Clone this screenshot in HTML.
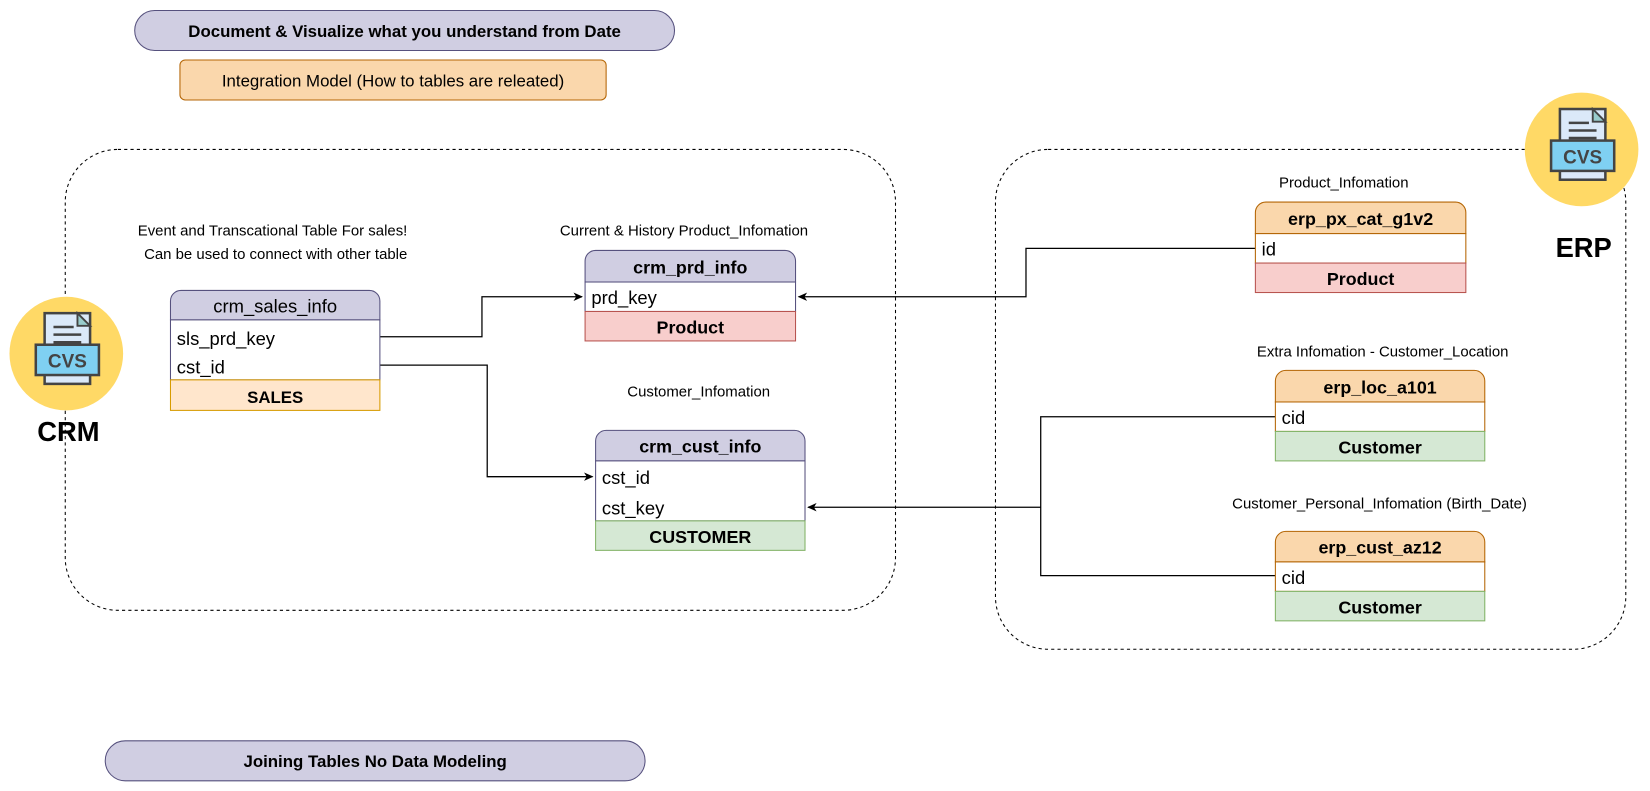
<!DOCTYPE html>
<html><head><meta charset="utf-8"><style>html,body{margin:0;padding:0;background:#fff;width:1650px;height:791px;overflow:hidden}svg{display:block}text{font-family:"Liberation Sans",sans-serif}</style></head>
<body>
<svg width="1650" height="791" viewBox="0 0 1568 751.7" xmlns="http://www.w3.org/2000/svg">
<defs>
<marker id="ar" markerWidth="10" markerHeight="10" refX="8" refY="4" orient="auto" markerUnits="userSpaceOnUse"><path d="M0,0 L9,4 L0,8 L2.5,4 Z" fill="#000"/></marker>
<g id="doc">
<rect x="-18" y="-32" width="36" height="56" fill="#dbe9f9" stroke="#444" stroke-width="2"/>
<path d="M8,-32 L18,-22 L8,-22 Z" fill="#9cc" stroke="#444" stroke-width="1.5"/>
<line x1="-11" y1="-21" x2="5" y2="-21" stroke="#444" stroke-width="2"/>
<line x1="-11" y1="-15" x2="11" y2="-15" stroke="#444" stroke-width="2"/>
<line x1="-11" y1="-9" x2="11" y2="-9" stroke="#444" stroke-width="2"/>
<rect x="-25" y="-7" width="50" height="24" fill="#7fd0f2" stroke="#444" stroke-width="2"/>
<text x="0" y="11" text-anchor="middle" font-size="15" font-weight="bold" fill="#444">CVS</text>
</g>
</defs>
<rect x="128" y="10" width="513" height="38" rx="19" fill="#d0cee2" stroke="#56517e"/>
<text x="384.5" y="35" text-anchor="middle" font-size="16" font-weight="bold">Document &amp; Visualize what you understand from Date</text>
<rect x="171" y="57" width="405" height="38" rx="5" fill="#fad7ac" stroke="#b46504"/>
<text x="373.5" y="82" text-anchor="middle" font-size="16">Integration Model (How to tables are releated)</text>

<rect x="62" y="142" width="789" height="438" rx="50" fill="none" stroke="#000" stroke-dasharray="3,3"/>
<rect x="946" y="142" width="599" height="475" rx="50" fill="none" stroke="#000" stroke-dasharray="3,3"/>

<circle cx="63" cy="336" r="54" fill="#ffd966"/>
<use href="#doc" transform="translate(64,336) scale(1.2)"/>
<text x="65" y="419" text-anchor="middle" font-size="26" font-weight="bold">CRM</text>
<circle cx="1503" cy="142" r="54" fill="#ffd966"/>
<use href="#doc" transform="translate(1504,142) scale(1.2)"/>
<text x="1505" y="244" text-anchor="middle" font-size="26" font-weight="bold">ERP</text>

<g font-size="14.2" text-anchor="middle">
<text x="259" y="224">Event and Transcational Table For sales!</text>
<text x="262" y="246">Can be used to connect with other table</text>
<text x="650" y="224">Current &amp; History Product_Infomation</text>
<text x="664" y="377">Customer_Infomation</text>
<text x="1277" y="178">Product_Infomation</text>
<text x="1314" y="339">Extra Infomation - Customer_Location</text>
<text x="1311" y="483">Customer_Personal_Infomation (Birth_Date)</text>
</g>

<g fill="none" stroke="#000" stroke-width="1.2">
<path d="M361,320 H458 V282 H553" marker-end="url(#ar)"/>
<path d="M361,347 H463 V453 H563" marker-end="url(#ar)"/>
<path d="M1193,236 H975 V282 H759" marker-end="url(#ar)"/>
<path d="M1212,396 H989 V547 H1212"/>
<path d="M989,482 H768" marker-end="url(#ar)"/>
</g>

<path d="M162,304 V286 a10,10 0 0 1 10,-10 H351 a10,10 0 0 1 10,10 V304 Z" fill="#d0cee2" stroke="#56517e"/>
<rect x="162" y="304" width="199" height="57" fill="#fff" stroke="#56517e"/>
<rect x="162" y="361" width="199" height="29" fill="#ffe6cc" stroke="#d79b00"/>
<text x="261.5" y="297" text-anchor="middle" font-size="17.5">crm_sales_info</text>
<text x="168" y="328" font-size="17.5">sls_prd_key</text>
<text x="168" y="355" font-size="17.5">cst_id</text>
<text x="261.5" y="383" text-anchor="middle" font-size="16" font-weight="bold">SALES</text>

<path d="M556,268 V248 a10,10 0 0 1 10,-10 H746 a10,10 0 0 1 10,10 V268 Z" fill="#d0cee2" stroke="#56517e"/>
<rect x="556" y="268" width="200" height="28" fill="#fff" stroke="#56517e"/>
<rect x="556" y="296" width="200" height="28" fill="#f8cecc" stroke="#b85450"/>
<text x="656" y="260" text-anchor="middle" font-size="17" font-weight="bold">crm_prd_info</text>
<text x="562" y="289" font-size="17.5">prd_key</text>
<text x="656" y="317" text-anchor="middle" font-size="17" font-weight="bold">Product</text>

<path d="M566,438 V419 a10,10 0 0 1 10,-10 H755 a10,10 0 0 1 10,10 V438 Z" fill="#d0cee2" stroke="#56517e"/>
<rect x="566" y="438" width="199" height="57" fill="#fff" stroke="#56517e"/>
<rect x="566" y="495" width="199" height="28" fill="#d5e8d4" stroke="#82b366"/>
<text x="665.5" y="430" text-anchor="middle" font-size="17" font-weight="bold">crm_cust_info</text>
<text x="572" y="460" font-size="17.5">cst_id</text>
<text x="572" y="489" font-size="17.5">cst_key</text>
<text x="665.5" y="516" text-anchor="middle" font-size="17" font-weight="bold">CUSTOMER</text>

<path d="M1193,222 V202 a10,10 0 0 1 10,-10 H1383 a10,10 0 0 1 10,10 V222 Z" fill="#fad7ac" stroke="#b46504"/>
<rect x="1193" y="222" width="200" height="28" fill="#fff" stroke="#b46504"/>
<rect x="1193" y="250" width="200" height="28" fill="#f8cecc" stroke="#b85450"/>
<text x="1293" y="214" text-anchor="middle" font-size="17" font-weight="bold">erp_px_cat_g1v2</text>
<text x="1199" y="243" font-size="17.5">id</text>
<text x="1293" y="271" text-anchor="middle" font-size="17" font-weight="bold">Product</text>

<path d="M1212,382 V362 a10,10 0 0 1 10,-10 H1401 a10,10 0 0 1 10,10 V382 Z" fill="#fad7ac" stroke="#b46504"/>
<rect x="1212" y="382" width="199" height="28" fill="#fff" stroke="#b46504"/>
<rect x="1212" y="410" width="199" height="28" fill="#d5e8d4" stroke="#82b366"/>
<text x="1311.5" y="374" text-anchor="middle" font-size="17" font-weight="bold">erp_loc_a101</text>
<text x="1218" y="403" font-size="17.5">cid</text>
<text x="1311.5" y="431" text-anchor="middle" font-size="17" font-weight="bold">Customer</text>

<path d="M1212,534 V515 a10,10 0 0 1 10,-10 H1401 a10,10 0 0 1 10,10 V534 Z" fill="#fad7ac" stroke="#b46504"/>
<rect x="1212" y="534" width="199" height="28" fill="#fff" stroke="#b46504"/>
<rect x="1212" y="562" width="199" height="28" fill="#d5e8d4" stroke="#82b366"/>
<text x="1311.5" y="526" text-anchor="middle" font-size="17" font-weight="bold">erp_cust_az12</text>
<text x="1218" y="555" font-size="17.5">cid</text>
<text x="1311.5" y="583" text-anchor="middle" font-size="17" font-weight="bold">Customer</text>

<rect x="100" y="704" width="513" height="38" rx="19" fill="#d0cee2" stroke="#56517e"/>
<text x="356.5" y="729" text-anchor="middle" font-size="16" font-weight="bold">Joining Tables No Data Modeling</text>
</svg>
</body></html>
